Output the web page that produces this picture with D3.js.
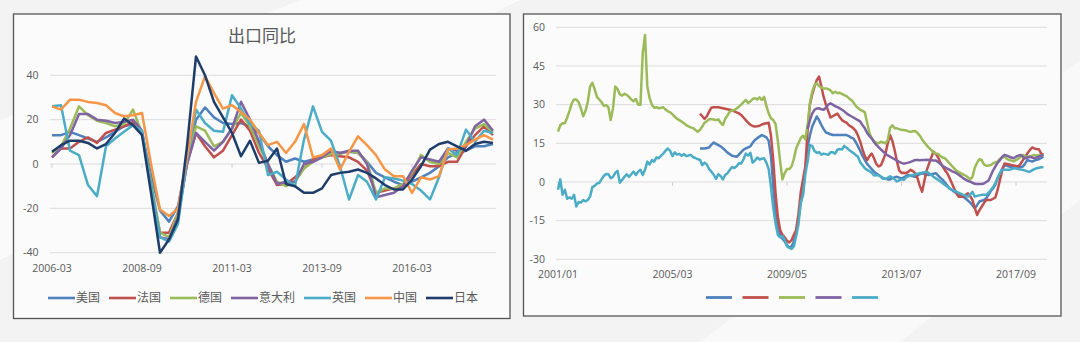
<!DOCTYPE html>
<html><head><meta charset="utf-8">
<script src="https://cdn.jsdelivr.net/npm/d3@7/dist/d3.min.js"></script>
<style>
html,body{margin:0;padding:0;background:#f3f3f3;}
svg{display:block;}
</style></head>
<body>
<svg id="c" width="1080" height="342"></svg>
<script>
// ---------------- LEFT CHART DATA (quarterly, 2006-03 .. 2018-06) ----------------
const leftTitle = "出口同比";
const leftSeriesNames = ["美国","法国","德国","意大利","英国","中国","日本"];
const leftYTicks = [-40,-20,0,20,40];
const leftXTicks = ["2006-03","2008-09","2011-03","2013-09","2016-03"];
const usL = [13,13,14.5,13,11.5,10,12,14.5,17,18,14,-5,-21,-26,-19,2,20,25.5,21,18.5,18,18.5,17,14,8,4,1,2.5,1,2,4,5,5,5.5,5,1,-4,-6,-8,-9.5,-8,-6,-4,-1,3,5,6,8,8,9];
const frL = [3,7,7,10,12,9.5,14,15.5,17,19,14,-10,-31,-31,-22,0,14,8,3,6,13,20,15,5,-2,-9.5,-9,-6,-2,2,3,4,3.5,3,1,-3,-13,-12,-11,-10,-5,0,-1,-1,1,1,8,13,17,13];
const deL = [5,8,16,26,22,19.5,18.5,17,18,24.5,14,-8,-31,-33,-22,2,17,15,8,10,16,23,17,8,0,-8,-10,-8,-2,1,3,4.5,4.5,6,5,1,-13,-11,-11,-9,-4,4,1,0,5,3,10,16,18,14];
const itL = [3,7,13,22.5,22.5,20,19.5,18.5,19,20,15,-10,-33,-34,-24,0,14,10,6,10,16,28,20,10,0,-9,-8,-8,0,1,3,6,5,6,6,0,-15,-14,-13,-10,-3,3,2,1,7,6,8,17,20,15];
const ukL = [26,26.5,6,4,-9.5,-14.5,8,11.5,14.5,17.5,15,-10,-33,-35,-27,2,24.5,18.5,15,14.5,31,25,18,15,-5,-3.5,-7,-10,11,26,14.5,10.5,-1,-16,-5,-8,-16,-6,-6.5,-7.5,-9,-12,-16,-6,7,4,15.5,10,15,14];
const cnL = [26,24.5,29,29,28,27.5,26.5,23,21.5,22,23,0,-20.5,-23.5,-20,3,28,39.5,32,25,26.5,23.5,20,14,8.5,10,5,10,18,3,4,7,-2.5,5.5,12.5,8.5,4,-2.5,-5.5,-5.5,-13,-6,-7,-5.5,6.5,7,8.5,11,13,11];
const jpL = [5.5,8.5,10.5,10.5,9.5,7,9,14,20.5,17.5,13,-13,-40,-34,-25,8,48.5,40,28,21,14,3.5,10.5,0.5,1.5,7,-9,-10,-13,-13,-11,-5,-4,-3.5,-2.5,-4,-6.5,-9.5,-11.5,-11.5,-7,-1,6.5,9,10,8,6,9,10,9.5];
const leftColors = ["#4F81BD","#C0504D","#9BBB59","#8064A2","#4BACC6","#F79646","#1F3D6B"];
const leftCategories = [];
for (let y = 2006, m = 3; leftCategories.length < 50; ) {
  leftCategories.push(y + "-" + String(m).padStart(2,"0"));
  m += 3; if (m > 12) { m -= 12; y++; }
}

// ---------------- RIGHT CHART DATA (monthly, 2001/01 .. 2018/09) ----------------
const rightYTicks = [-30,-15,0,15,30,45,60];
const rightXTicks = ["2001/01","2005/03","2009/05","2013/07","2017/09"];
const rightColors = ["#4F81BD","#C0504D","#9BBB59","#8064A2","#4BACC6"];
const blueR = Array(62).fill(null).concat([
13,13,13,13.2,13.4,14.5,15.3,14.8,14.3,13.8,
13.1,12.3,11.4,10.8,10.2,10,9.8,10.6,11.6,12.5,
13,13.4,13.8,15.2,16.3,17,17.6,18.2,17.8,17.3,
16,10,-2,-12,-17.3,-20.5,-22,-23.1,-24.5,-25.5,
-25,-23,-20,-14,-8,-4.4,5,13.7,18,21.5,
23.5,25.4,24,22.1,20.5,19.2,18.9,18.5,18.2,18.2,
18.2,18.2,18.2,18.2,18.2,17.8,17.2,16.9,15.5,13.8,
12,10,8.5,7,6,5,4,3.3,2.7,2,
1.5,1.2,1,1,1.5,1.8,2,1.7,1.4,1.8,
2.3,2.7,2.4,2.2,2,2.5,3,3.4,3.1,2.8,
2.7,3,3.2,3.4,2.5,1.6,0.8,-0.3,-1.4,-2.5,
-3.1,-3.8,-4.4,-4.9,-5.3,-5.7,-6.4,-7.2,-8,-9,
-10.2,-9,-7.6,-7.3,-7,-6.3,-5,-3.5,-2.5,-1,
1.5,3.4,5.2,6.6,6.3,6,5.8,5.5,5.3,5.6,
5.8,6,7.2,8.5,8.2,7.9,8.3,8.6,8.8,9.3,9.8]);
const redR = Array(62).fill(null).concat([
26.5,25.5,24.5,25.5,27.3,28.8,29,29,29,28.8,
28.6,28.4,28.2,28,27.8,27.4,27,26.6,26,25,
24,23,22.2,21.7,21.5,21.6,21.8,22.3,22.6,22.8,
23,18,8.5,-4.4,-13.5,-18.6,-20.5,-21.5,-22.8,-23.5,
-22.5,-20.5,-18.6,-12.5,-4,1,6,20,30,34,
37,39.5,40.9,37,33,30,27.5,25,25.5,26,
26.5,25.2,24,23.4,23,22,21.5,20.8,19.8,18,
15.6,12.5,10,8.5,10,11,9.2,7,6,6.5,
8.5,11,15,18.2,16,12.4,8,4.5,3.5,3.6,
3.4,4,4.7,4.2,3.4,1.5,-1.5,-3.8,0.5,4.5,
7,9.5,11.8,10.8,9.5,7.5,6,4.5,3.4,1.5,
-0.5,-2.5,-4.5,-5.7,-5.7,-5.7,-5,-4.4,-5.5,-7,
-10,-12.8,-11,-9.6,-8.2,-7,-7,-7,-6.5,-6,
-3,0.8,4.5,7.2,7,6.8,6.6,6.4,6.2,6,
7,8.5,9.8,11.1,12.3,13.4,13,12.8,12.7,11,10.5]);
const greenR = [
19.5,22,22.8,22.8,25,27.5,30.5,32,32,31,
28.5,25.5,27.5,31,37,38.5,36,33,32,31,
29.5,29.8,29,24,28.5,37,36,34,33.5,34.2,
33.8,33,32,31.3,32.2,30,30,50,57,37,
32.5,30,28.8,29,28.6,28.8,29,28,27.4,27,
26.2,25.3,24.5,24,23.4,22.8,22,21.6,21.2,20.9,
20.2,19.5,20.2,21.5,23,23.6,24.3,24.3,24.2,24,
24.3,23,22.1,24.5,25.8,27.3,27.7,27.9,28.5,29.2,
30,31,31.8,30.6,31.2,32.2,32.5,32,32.8,31.8,
33,29.5,26.6,24.7,24,22.5,16,8,1,3.4,
5,5,6,9,13,15,17,18,16.5,22,
30.5,35,37.5,38.3,37.2,36.5,36.3,36.3,36,35.5,
34.4,35,34.5,34.6,34.2,33.7,33.3,32.5,31.8,30.9,
29.5,28.7,28,27.6,27,23,19,17,15.8,15.2,
15,15.6,15.3,15,16.3,21,22,20.8,20.8,20.5,
20.2,20.2,20,19.6,19.5,19.7,19.8,19,18,16.5,
15.3,14.2,13.2,12.4,11.5,11,10.9,10,9.5,9.2,
8.2,7.2,6.2,5.3,4.4,3.8,3.3,2.9,2.4,1.8,
1,2,5.5,7.5,8.8,8.5,6.8,6.3,6.4,6.6,
7.2,7.6,8,9,9.5,9.8,9,8.5,8.3,8,
8.5,9,9.8,10.5,10,9.8,9.8,10.2,10.5,10.2,
10.5,10.3,10.5];
const purpleR = Array(109).fill(null).concat([
20.5,24,26.5,28,28.5,28.6,28.2,28,28.8,30,
30.5,30,29.4,29,28.6,28,27.4,26.6,26,25.5,
25,24.5,24,23.4,22,20.8,19,17.8,16.9,15.5,
14.4,13.5,12.6,11.8,11,10.3,9.8,9.3,8.8,8.3,
7.8,7.4,7.1,7.3,7.5,7.8,8.2,8.5,8.5,8.4,
8.5,8.5,8.6,8.5,8.4,8.3,8.3,7.7,7,6.2,
5.7,5.2,4.7,4.2,3.8,3.4,2.8,2.1,1.4,0.9,
0.4,0.1,-0.3,-0.7,-0.8,-0.8,-0.8,-0.6,0,0.6,
2.5,4.5,6,7.5,8.5,9.8,10.5,10.2,9.8,9.5,
9.2,9.8,10.2,10.5,9.8,9.2,9.5,9.8,9.5,9.2,
9.5,9.8,10.2,10.5]);
const aquaR = [
-3,1,-5,-3,-6.5,-6,-6.5,-5,-9.5,-7.8,
-8,-7,-7.5,-7,-5.7,-2,-1.5,-0.6,-0.4,1,
2.3,3.1,3,1.5,2,3.5,4.3,-0.3,0.8,2,
3,2,3,4,2.7,4,4.7,2.7,4.7,7.9,
6.8,8.5,7.9,9.5,9.2,10.2,11,12.2,13,12,
10,11.5,10.6,10.9,10.2,10.8,10,10.3,10.5,9.6,
9.3,8.8,8.6,6.5,7.5,6.8,5,4,2.8,1.2,
3,2.3,1,2.7,3.4,4.6,5.8,5.4,6.1,7.3,
7.2,8.8,11,10.2,11.3,7.5,8.3,9.5,8.7,9,
9.2,7.5,5,-2,-10,-16,-20.5,-21.5,-21,-22.5,
-25,-25.5,-26,-25,-21,-16.5,-8,-5,3,8,
14.3,14,12,11.3,11.6,10.6,11,10.8,10.5,11.5,
11.5,11,12.5,12.8,12.6,14,13.3,12.5,11.8,11.2,
10.5,9.8,7.6,6.5,5.3,4.7,4.2,3.6,2.5,2.6,
2.7,2.1,1.2,1.2,1.6,2.2,1.7,1,0.2,0.6,
1,0.8,1.8,2.2,2.5,2.7,3,3.2,3.4,3.6,
3.8,4,3.4,2.7,2,1.4,0.8,0.2,-0.5,-1.2,
-1.8,-2.5,-3,-3.4,-3.8,-4.2,-4.6,-5,-5.3,-5.7,
-4.8,-3.8,-5.7,-5.4,-5.2,-5,-5,-5,-4.2,-3.1,
-2,-0.5,1.5,3.5,4.7,4.7,4.7,4.7,5,5.3,
5.3,5,4.8,4.7,4.4,4.1,4,4.5,5,5.3,
5.5,5.7,5.7];
const rightCategories = [];
for (let y = 2001, m = 1; rightCategories.length < 213; ) {
  rightCategories.push(y + "/" + String(m).padStart(2,"0"));
  m++; if (m > 12) { m = 1; y++; }
}

// ---------------- DRAW ----------------
const svg = d3.select("#c");
const FONT = "'Open Sans', 'Liberation Sans', sans-serif";
const CJK = "'Noto Sans CJK SC', sans-serif";
const TXT = "#595959";

// faint background shapes
const bg = svg.append("g");
bg.append("rect").attr("width",1080).attr("height",342).attr("fill","#f3f3f3");
bg.append("path").attr("d","M0,120 L300,0 L520,0 L0,260 Z").attr("fill","#ffffff").attr("opacity",0.55);
bg.append("path").attr("d","M700,342 L1080,60 L1080,200 L900,342 Z").attr("fill","#ffffff").attr("opacity",0.5);

// ---- left panel ----
const L = svg.append("g");
L.append("rect").attr("x",13.5).attr("y",14).attr("width",496.5).attr("height",304.5)
  .attr("fill","#fbfbfb").attr("stroke","#555").attr("stroke-width",1.3);
const xL = d3.scalePoint().domain(leftCategories).range([52, 493]);
const yL = d3.scaleLinear().domain([-40,40]).range([252.7, 75.3]);
L.append("g").selectAll("line").data(leftYTicks).join("line")
  .attr("x1",50).attr("x2",496).attr("y1",d=>yL(d)).attr("y2",d=>yL(d))
  .attr("stroke","#dcdcdc").attr("stroke-width",1);
L.append("g").selectAll("line").data(leftXTicks).join("line")
  .attr("x1",d=>xL(d)).attr("x2",d=>xL(d)).attr("y1",yL(0)).attr("y2",yL(0)+4)
  .attr("stroke","#d0d0d0");
L.append("g").selectAll("text").data(leftYTicks).join("text")
  .attr("x",38.5).attr("y",d=>yL(d)).attr("dy","0.35em").attr("text-anchor","end")
  .attr("font-family",FONT).attr("font-size",10.5).attr("fill",TXT).text(d=>d);
L.append("g").selectAll("text").data(leftXTicks).join("text")
  .attr("x",d=>xL(d)).attr("y",271.5).attr("text-anchor","middle")
  .attr("font-family",FONT).attr("font-size",10.5).attr("fill",TXT).text(d=>d);
L.append("text").attr("x",262).attr("y",41.5).attr("text-anchor","middle")
  .attr("font-family",CJK).attr("font-size",17).attr("fill",TXT).text(leftTitle);
const leftSeries = [usL, frL, deL, itL, ukL, cnL, jpL];
const lineL = d3.line().x((d,i)=>xL(leftCategories[i])).y(d=>yL(d));
leftSeries.forEach((s,k)=>{
  L.append("path").attr("d",lineL(s)).attr("fill","none")
    .attr("stroke",leftColors[k]).attr("stroke-width",2.5).attr("stroke-linejoin","round");
});
// legend
let lx = 48;
leftSeriesNames.forEach((n,k)=>{
  L.append("line").attr("x1",lx).attr("x2",lx+27).attr("y1",298).attr("y2",298)
    .attr("stroke",leftColors[k]).attr("stroke-width",2.6);
  L.append("text").attr("x",lx+28).attr("y",298).attr("dy","0.36em")
    .attr("font-family",CJK).attr("font-size",12).attr("fill",TXT).text(n);
  lx += 28 + 12*n.length + 9;
});

// ---- right panel ----
const R = svg.append("g");
R.append("rect").attr("x",523.5).attr("y",14).attr("width",537.5).attr("height",302)
  .attr("fill","#fbfbfb").attr("stroke","#555").attr("stroke-width",1.3);
const xR = d3.scalePoint().domain(rightCategories).range([558, 558 + 2.29*212]);
const yR = d3.scaleLinear().domain([-30,60]).range([259.3, 27.3]);
R.append("g").selectAll("line").data(rightYTicks).join("line")
  .attr("x1",556).attr("x2",1047).attr("y1",d=>yR(d)).attr("y2",d=>yR(d))
  .attr("stroke","#dcdcdc").attr("stroke-width",1);
R.append("g").selectAll("line").data(rightXTicks).join("line")
  .attr("x1",d=>xR(d)).attr("x2",d=>xR(d)).attr("y1",yR(0)).attr("y2",yR(0)+4)
  .attr("stroke","#d0d0d0");
R.append("g").selectAll("text").data(rightYTicks).join("text")
  .attr("x",545).attr("y",d=>yR(d)).attr("dy","0.35em").attr("text-anchor","end")
  .attr("font-family",FONT).attr("font-size",10.5).attr("fill",TXT).text(d=>d);
R.append("g").selectAll("text").data(rightXTicks).join("text")
  .attr("x",d=>xR(d)).attr("y",278).attr("text-anchor","middle")
  .attr("font-family",FONT).attr("font-size",10.5).attr("fill",TXT).text(d=>d);
const rightSeries = [blueR, redR, greenR, purpleR, aquaR];
const lineR = d3.line().defined(d=>d!==null)
  .x((d,i)=>xR(rightCategories[i])).y(d=>yR(d));
rightSeries.forEach((s,k)=>{
  R.append("path").attr("d",lineR(s)).attr("fill","none")
    .attr("stroke",rightColors[k]).attr("stroke-width",2.5).attr("stroke-linejoin","round");
});
rightColors.forEach((c,k)=>{
  R.append("line").attr("x1",706+k*36.5).attr("x2",732+k*36.5).attr("y1",297.5).attr("y2",297.5)
    .attr("stroke",c).attr("stroke-width",2.8);
});
</script>
</body></html>
